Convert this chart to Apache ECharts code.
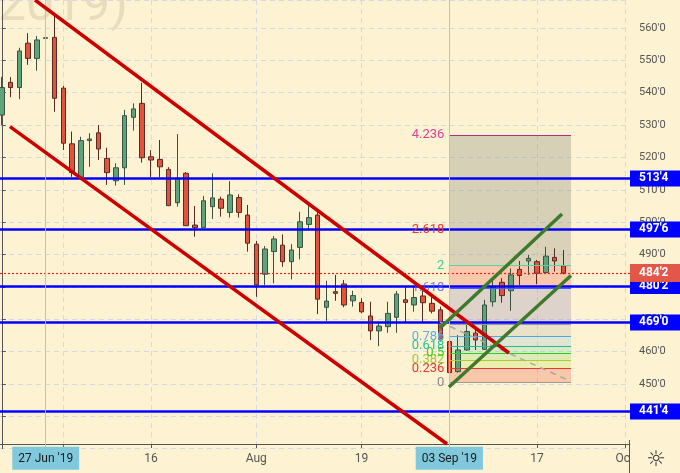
<!DOCTYPE html>
<html><head><meta charset="utf-8">
<script src="https://cdn.jsdelivr.net/npm/echarts@6/dist/echarts.min.js"></script>
<style>html,body{margin:0;padding:0;background:#fdf2d1;}#c{width:680px;height:473px;}</style>
</head><body><div id="c"></div>
<script>
// Trading days (index 0 = 20 Jun 2019)
const dates = ['2019-06-20','2019-06-21','2019-06-24','2019-06-25','2019-06-26','2019-06-27','2019-06-28',
'2019-07-01','2019-07-02','2019-07-03','2019-07-05','2019-07-08','2019-07-09','2019-07-10','2019-07-11','2019-07-12',
'2019-07-15','2019-07-16','2019-07-17','2019-07-18','2019-07-19','2019-07-22','2019-07-23','2019-07-24','2019-07-25',
'2019-07-26','2019-07-29','2019-07-30','2019-07-31','2019-08-01','2019-08-02','2019-08-05','2019-08-06','2019-08-07',
'2019-08-08','2019-08-09','2019-08-12','2019-08-13','2019-08-14','2019-08-15','2019-08-16','2019-08-19','2019-08-20',
'2019-08-21','2019-08-22','2019-08-23','2019-08-26','2019-08-27','2019-08-28','2019-08-29','2019-08-30','2019-09-03',
'2019-09-04','2019-09-05','2019-09-06','2019-09-09','2019-09-10','2019-09-11','2019-09-12','2019-09-13','2019-09-16',
'2019-09-17','2019-09-18','2019-09-19','2019-09-20'];
const opens  = [533.1,543.2,541.6,555.3,550.6,556.8,557.1,541.4,524.2,514.0,525.2,527.6,519.7,512.8,516.8,532.4,536.7,520.2,519.4,516.3,506.0,515.1,499.1,498.3,504.8,507.1,503.0,507.6,502.2,493.2,483.9,490.9,492.9,487.8,492.2,499.3,502.2,473.7,478.5,480.9,475.7,475.2,471.0,466.4,467.7,470.6,476.0,474.4,477.2,474.9,472.9,463.1,453.8,460.5,465.7,460.7,475.4,481.4,478.8,485.4,488.0,487.8,484.4,489.1,486.5];
const closes = [541.6,541.6,552.9,550.6,556.3,557.0,538.3,524.4,515.3,525.2,525.7,522.6,515.3,516.8,532.9,535.0,519.9,519.2,517.1,505.1,513.6,498.9,498.3,506.6,507.5,504.3,508.4,503.0,493.5,480.6,491.7,494.8,487.8,491.4,500.1,501.4,476.2,475.6,478.0,474.4,477.3,472.3,466.4,467.9,471.8,477.8,475.2,476.7,475.1,472.5,463.8,453.5,460.5,466.2,463.6,474.4,479.9,477.3,483.7,483.5,488.8,484.2,489.5,488.0,484.25];
const lows   = [530.0,538.6,538.0,548.6,546.8,552.2,534.1,522.3,514.0,513.8,517.1,519.2,511.5,511.3,511.5,528.3,518.4,513.9,513.9,505.0,504.8,498.8,495.5,498.2,501.0,501.7,501.4,501.4,490.9,476.9,480.6,481.1,486.2,482.3,488.5,497.8,471.6,469.5,475.7,473.7,473.9,471.8,463.6,461.7,465.8,465.8,468.9,472.3,468.9,471.8,463.1,452.8,453.5,460.3,460.5,460.5,473.9,475.1,472.6,480.6,483.7,480.8,484.3,484.7,483.9];
const highs  = [544.9,544.8,553.9,558.4,557.5,568.6,564.6,542.1,528.0,526.4,527.5,530.0,523.0,518.2,534.7,536.7,543.1,522.3,525.4,517.0,527.2,515.5,505.0,508.1,515.1,507.9,512.7,508.6,505.3,494.2,492.6,495.7,496.2,493.2,503.2,505.3,503.2,481.9,483.7,482.1,478.8,476.5,475.4,469.2,475.4,478.7,480.3,480.1,478.7,477.2,473.9,463.6,465.1,468.7,467.7,476.0,482.1,482.7,485.7,488.0,489.9,488.3,492.4,491.9,491.4];

// axis ticks (trading-day index; 71 = 1 Oct)
const tickIdx  = [7, 17, 29, 41, 51, 61, 71];
const tickText = ['Jul', '16', 'Aug', '19', 'Sep', '17', 'Oct'];
const labelIdx = [17, 29, 41, 61, 71];
const cursorIdx  = [5, 51];
const cursorText = ["27 Jun '19", "03 Sep '19"];

// horizontal levels
const levelPrices = [513.5, 497.75, 480.25, 469.0, 441.5];
const levelText   = ["513'4", "497'6", "480'2", "469'0", "441'4"];
const lastPrice = 484.25;
const lastText  = "484'2";

// trend lines [index, price]
const redUpper   = [[3.78, 568.65], [57.8, 459.57]];
const redLower   = [[0.93, 529.5], [50.74, 431.45]];
const greenUpper = [[49.94, 467.3], [63.84, 502.5]];
const greenLower = [[50.96, 449.06], [64.87, 483.5]];
const fibDiag    = [[49.94, 469.15], [64.76, 450.9]];

// fibonacci tool
const fibX = [51, 64.87];
const fibLow = 450.5, fibHigh = 468.55;
const fibLevels = [0, 0.236, 0.382, 0.5, 0.618, 0.786, 1, 1.618, 2, 2.618, 4.236];
const fibLineColors = ['#9a9a9a','#e53935','#a5cf3a','#2ecc2e','#26b89a','#4fa8e0','#9a9a9a','#4a5cff','#55d6a8','#c0392b','#b0307e'];
const fibTextColors = ['#8a8a8a','#e53935','#9ccc33','#33cc33','#22c4a0','#5aaee8','#8a8a8a','rgba(70,80,255,0.75)','#3ccf9c','#e53935','#e0409a'];
const fibFills = ['rgba(240,90,70,0.28)','rgba(200,225,90,0.28)','rgba(130,215,100,0.25)','rgba(80,205,140,0.22)',
  'rgba(100,185,220,0.2)','rgba(150,150,165,0.18)','rgba(130,120,185,0.25)','rgba(240,120,100,0.35)',
  'rgba(125,130,120,0.28)','rgba(125,130,120,0.3)'];
const fibPrice = l => fibLow + l * (fibHigh - fibLow);

const candleData = dates.map((d, i) => [i, opens[i], closes[i], lows[i], highs[i]]);

const chart = echarts.init(document.getElementById('c'), null, {renderer: 'canvas'});
const FONT = 'Roboto, "Liberation Sans", sans-serif';

const fibMarkLines = fibLevels.map((l, k) => [
  {coord: [fibX[0], fibPrice(l)], lineStyle: {color: fibLineColors[k], width: 1.2, type: 'solid'},
   label: {show: l !== 1, position: 'start', distance: 5, formatter: String(l), color: fibTextColors[k], fontSize: 13, fontFamily: FONT}},
  {coord: [fibX[1], fibPrice(l)]}
]);
const fibAreas = fibFills.map((c, k) => [
  {coord: [fibX[0], fibPrice(fibLevels[k])], itemStyle: {color: c}},
  {coord: [fibX[1], fibPrice(fibLevels[k + 1])]}
]);

const levelLines = levelPrices.map((p, k) => ({
  yAxis: p,
  lineStyle: {color: '#0000ff', width: 2.5, type: 'solid'},
  label: {show: true, position: 'end', distance: 0, formatter: levelText[k], backgroundColor: '#0000ff',
    color: '#fff', fontWeight: 'bold', fontSize: 12, fontFamily: FONT, padding: [1, 0, 1, 9], width: 41, lineHeight: 14, align: 'left'}
}));
levelLines.push({
  yAxis: lastPrice,
  lineStyle: {color: '#f02020', width: 1.2, type: [2, 2]},
  label: {show: true, position: 'end', distance: 0, formatter: lastText, backgroundColor: '#e2574a',
    color: '#fff', fontWeight: 'bold', fontSize: 12, fontFamily: FONT, padding: [2, 0, 2, 9], width: 41, lineHeight: 14, align: 'left'}
});

const cursorLines = cursorIdx.map((x, k) => ({
  xAxis: x,
  lineStyle: {color: '#8fd3e3', width: 1, type: 'solid'},
  label: {show: true, position: 'start', distance: -2, formatter: cursorText[k], backgroundColor: '#80c9dd',
    color: '#1a1a1a', fontSize: 12, fontFamily: FONT, padding: [6, 6, 5, 6]}
}));

function lineSeries(data, color, width, type) {
  return {type: 'line', data: data, showSymbol: false, symbol: 'none', z: 5, silent: true,
    lineStyle: {color: color, width: width, type: type || 'solid'}, clip: true};
}

chart.setOption({
  animation: false,
  backgroundColor: '#fdf2d1',
  grid: {left: 0, width: 630, top: 0, height: 448.67, containLabel: false},
  xAxis: {
    type: 'value', min: -0.21, max: 71.59, offset: -4.67,
    axisLine: {show: true, lineStyle: {color: '#555', width: 1}},
    axisTick: {show: true, length: 4, customValues: tickIdx, lineStyle: {color: '#555'}},
    axisLabel: {show: true, customValues: labelIdx, margin: 9, color: '#555', fontSize: 12, fontFamily: FONT,
      formatter: v => tickText[tickIdx.indexOf(Math.round(v))] || ''},
    splitLine: {show: true, lineStyle: {color: '#d6d9e2', type: [5, 4], width: 1}}
  },
  yAxis: {
    type: 'value', position: 'right', min: 430, max: 568.65, interval: 10,
    axisLine: {show: true, lineStyle: {color: '#555', width: 1}},
    axisTick: {show: true, length: 4, lineStyle: {color: '#555'}},
    axisLabel: {show: true, margin: 9, color: '#555', fontSize: 11, fontFamily: FONT,
      showMinLabel: false, showMaxLabel: false, formatter: v => (Math.abs(v - Math.round(v)) > 0.01 ? '' : v + "'0")},
    splitLine: {show: true, lineStyle: {color: '#d6d9e2', type: [5, 4], width: 1}}
  },
  series: [
    {type: 'line', data: [], z: 1, silent: true,
     markArea: {silent: true, data: fibAreas},
     markLine: {silent: true, symbol: ['none', 'none'], data: fibMarkLines}},
    {type: 'candlestick', data: candleData, encode: {x: 0, y: [1, 2, 3, 4]}, barWidth: 5, z: 3,
     itemStyle: {color: '#5fa37a', color0: '#e0533d', borderColor: '#3a5244', borderColor0: '#582a22', borderWidth: 1}},
    lineSeries(fibDiag, '#a8a8a8', 1.5, [6, 5]),
    lineSeries(redUpper, '#cc0000', 3.5),
    lineSeries(redLower, '#cc0000', 3.5),
    lineSeries(greenUpper, '#3f7a2c', 3.5),
    lineSeries(greenLower, '#3f7a2c', 3.5),
    {type: 'line', data: [], z: 6, silent: true,
     markLine: {silent: true, symbol: ['none', 'none'], data: levelLines.concat(cursorLines)}}
  ],
  graphic: [
    {type: 'text', left: -2, top: -18, z: -10, silent: true,
     style: {text: '2019)', font: '50px Roboto', fill: '#e8dcbd'}},
    {type: 'rect', shape: {x: 630, y: 444.5, width: 50, height: 29}, z: 100, silent: true, style: {fill: '#fdf2d1'}},
    {type: 'line', shape: {x1: 629.5, y1: 440, x2: 629.5, y2: 473}, z: 101, silent: true, style: {stroke: '#555', lineWidth: 1}},
    {type: 'text', x: 656, y: 460, z: 102, silent: true,
     style: {text: '\u263C', font: '22px "DejaVu Sans"', fill: '#333', align: 'center', verticalAlign: 'middle'}}
  ]
});
</script></body></html>
